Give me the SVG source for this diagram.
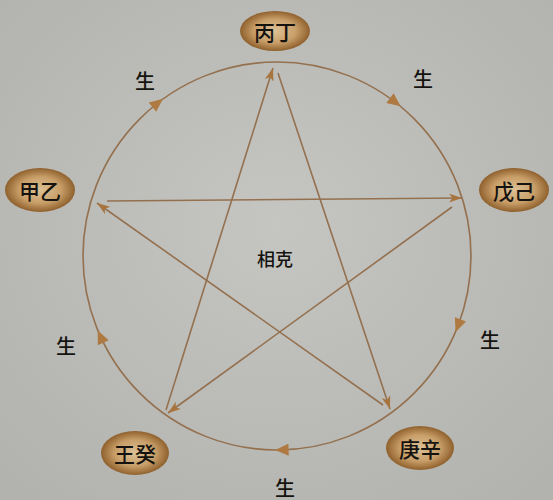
<svg xmlns="http://www.w3.org/2000/svg" width="553" height="500" viewBox="0 0 553 500">
<defs>
<radialGradient id="nodeFill" cx="50%" cy="50%" r="50%">
<stop offset="0%" stop-color="#dcc196"/>
<stop offset="60%" stop-color="#c89e68"/>
<stop offset="100%" stop-color="#8f602d"/>
</radialGradient>
<radialGradient id="bg" cx="50%" cy="45%" r="70%">
<stop offset="0%" stop-color="#c5c6c1"/>
<stop offset="100%" stop-color="#b2b3ae"/>
</radialGradient>
<marker id="arr" viewBox="0 0 13 9" refX="13" refY="4.5" markerWidth="13" markerHeight="9" markerUnits="userSpaceOnUse" orient="auto">
<path d="M0 0 L13 4.5 L0 9 L3.5 4.5 Z" fill="#a8743e"/>
</marker>
<path id="tri" d="M-6 -6.5 L6 -6.5 L0 7 Z" fill="#ae7a42"/>
</defs>
<style>
.node ellipse{fill:url(#nodeFill);}
.lbl{font-family:"Noto Sans CJK SC","Noto Sans",sans-serif;font-size:21px;font-weight:500;fill:#15130f;text-anchor:middle;dominant-baseline:central;}
.sheng{font-family:"Noto Sans CJK SC","Noto Sans",sans-serif;font-size:20px;font-weight:500;fill:#15130f;text-anchor:middle;dominant-baseline:central;}
.edge{stroke:#94704f;stroke-width:1.6;fill:none;}
</style>
<rect width="553" height="500" fill="url(#bg)"/>
<g id="connectors">
<circle class="edge" cx="277" cy="256" r="194"/>
<use href="#tri" transform="rotate(-52.5 277 256) translate(471 256)"/>
<use href="#tri" transform="rotate(21 277 256) translate(471 256)"/>
<use href="#tri" transform="rotate(88.5 277 256) translate(471 256)"/>
<use href="#tri" transform="rotate(155.4 277 256) translate(471 256)"/>
<use href="#tri" transform="rotate(232 277 256) translate(471 256)"/>
<line class="edge" x1="107" y1="201" x2="462" y2="198" marker-end="url(#arr)"/>
<line class="edge" x1="452" y1="207" x2="168" y2="413" marker-end="url(#arr)"/>
<line class="edge" x1="166" y1="410" x2="273" y2="68" marker-end="url(#arr)"/>
<line class="edge" x1="278" y1="73" x2="390" y2="409" marker-end="url(#arr)"/>
<line class="edge" x1="383" y1="405" x2="97" y2="203" marker-end="url(#arr)"/>
</g>
<g id="labels">
<text class="sheng" x="145" y="80">生</text>
<text class="sheng" x="423" y="78">生</text>
<text class="sheng" x="490" y="339">生</text>
<text class="sheng" x="285" y="487">生</text>
<text class="sheng" x="66" y="345">生</text>
<text class="sheng" x="275" y="258" style="font-size:18px">相克</text>
</g>
<g id="node-bingding" class="node"><ellipse cx="275" cy="31" rx="35" ry="20"/><text class="lbl" x="275" y="31">丙丁</text></g>
<g id="node-wuji" class="node"><ellipse cx="514" cy="190" rx="35" ry="22"/><text class="lbl" x="514" y="190">戊己</text></g>
<g id="node-gengxin" class="node"><ellipse cx="420" cy="448" rx="34" ry="22"/><text class="lbl" x="420" y="448">庚辛</text></g>
<g id="node-rengui" class="node"><ellipse cx="135" cy="453" rx="34" ry="22"/><text class="lbl" x="135" y="453">王癸</text></g>
<g id="node-jiayi" class="node"><ellipse cx="40" cy="190" rx="35" ry="22"/><text class="lbl" x="40" y="190">甲乙</text></g>
</svg>
